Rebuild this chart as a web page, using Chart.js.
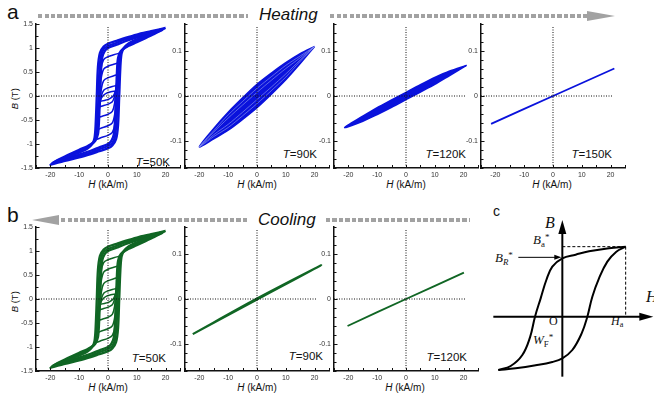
<!DOCTYPE html>
<html>
<head>
<meta charset="utf-8">
<script src="https://cdn.jsdelivr.net/npm/chart.js@4.4.1/dist/chart.umd.min.js"></script>
<style>
body{margin:0;width:654px;height:402px;position:relative;overflow:hidden;background:#fff;font-family:"Liberation Sans",Arial,sans-serif;color:#111}
canvas{position:absolute}
.t{position:absolute;line-height:1;white-space:nowrap}
.dash{position:absolute;height:4.4px;background:repeating-linear-gradient(to right,#a2a2a2 0 4.3px,transparent 4.3px 6.5px)}
.big{font-size:21px}
.hd{font-size:17px;font-style:italic}
.tl{font-size:11.5px}
.ax{font-size:10px;width:60px;text-align:center}
.sr{font-family:"Liberation Serif","Times New Roman",serif}
.sr sub{font-size:0.68em;vertical-align:-0.3em;font-style:normal}
.sr sup{font-size:0.7em;vertical-align:0.45em}
</style>
</head>
<body>
<div class="t big" style="left:7px;top:1px">a</div>
<div class="t big" style="left:7px;top:204px">b</div>
<div class="t" style="left:493px;top:204px;font-size:14px">c</div>

<div class="dash" style="left:38px;top:14px;width:210px"></div>
<div class="t hd" style="left:259px;top:6px">Heating</div>
<div class="dash" style="left:330px;top:14px;width:257px"></div>
<div style="position:absolute;left:587px;top:11px;width:0;height:0;border-left:28px solid #a2a2a2;border-top:5px solid transparent;border-bottom:5px solid transparent"></div>

<div style="position:absolute;left:32px;top:215px;width:0;height:0;border-right:27px solid #a2a2a2;border-top:5px solid transparent;border-bottom:5px solid transparent"></div>
<div class="dash" style="left:61px;top:217.7px;width:186px"></div>
<div class="t hd" style="left:258px;top:211px">Cooling</div>
<div class="dash" style="left:326px;top:217.7px;width:144px"></div>

<div class="t tl" style="right:484px;top:156.8px"><i>T</i>=50K</div>
<div class="t tl" style="right:337px;top:148.5px"><i>T</i>=90K</div>
<div class="t tl" style="right:188px;top:148.5px"><i>T</i>=120K</div>
<div class="t tl" style="right:42px;top:149.2px"><i>T</i>=150K</div>
<div class="t tl" style="right:488px;top:352.8px"><i>T</i>=50K</div>
<div class="t tl" style="right:331px;top:350.8px"><i>T</i>=90K</div>
<div class="t tl" style="right:187px;top:351.8px"><i>T</i>=120K</div>

<div class="t ax" style="left:78px;top:180px"><i>H</i> (kA/m)</div>
<div class="t ax" style="left:227px;top:180px"><i>H</i> (kA/m)</div>
<div class="t ax" style="left:376px;top:180px"><i>H</i> (kA/m)</div>
<div class="t ax" style="left:522px;top:180px"><i>H</i> (kA/m)</div>
<div class="t ax" style="left:78px;top:383px"><i>H</i> (kA/m)</div>
<div class="t ax" style="left:227px;top:383px"><i>H</i> (kA/m)</div>
<div class="t ax" style="left:375px;top:383px"><i>H</i> (kA/m)</div>

<div class="t" style="left:0px;top:94px;width:30px;text-align:center;font-size:9.5px;transform:rotate(-90deg)"><i>B</i> (T)</div>
<div class="t" style="left:0px;top:296.5px;width:30px;text-align:center;font-size:9.5px;transform:rotate(-90deg)"><i>B</i> (T)</div>

<div class="t sr" style="left:545px;top:215px;font-size:16px"><i>B</i></div>
<div class="t sr" style="left:646px;top:289px;font-size:16px"><i>H</i></div>
<div class="t sr" style="left:549px;top:315px;font-size:12px">O</div>
<div class="t sr" style="left:611px;top:315px;font-size:12px"><i>H</i><sub>a</sub></div>
<div class="t sr" style="left:533px;top:232.7px;font-size:13px"><i>B</i><sub>a</sub><sup>*</sup></div>
<div class="t sr" style="left:495px;top:251px;font-size:13px"><i>B</i><sub><i>R</i></sub><sup>*</sup></div>
<div class="t sr" style="left:533px;top:332.7px;font-size:13px"><i>W</i><sub>F</sub><sup>*</sup></div>

<script>
// colours
var blue = 'rgb(10,18,220)';
var blueLight = 'rgb(150,160,240)';
var green = 'rgb(16,102,36)';

// H axis (kA/m), same on every panel
var hRange = [-25, 25];
var zeroLineH = [-25, 20.5];

// 50 K, major loops [H, B]
var major50a = [[20,1.42],[15,1.35],[10,1.28],[6,1.21],[3,1.15],[0,1.09],[-1.5,1.03],[-2.8,0.9],[-3.5,0.6],[-3.9,0],[-4.3,-0.6],[-4.7,-0.88],[-5.5,-1.0],[-7,-1.09],[-10,-1.18],[-15,-1.3],[-20,-1.43],
  [-15,-1.35],[-10,-1.28],[-6,-1.21],[-3,-1.15],[0,-1.09],[1.5,-1.03],[2.8,-0.9],[3.5,-0.6],[3.9,0],[4.3,0.6],[4.7,0.88],[5.5,1.0],[7,1.09],[10,1.18],[15,1.3],[20,1.42]];
var major50b = [[19.5,1.4],[15,1.33],[10,1.25],[6,1.18],[3,1.11],[0,1.04],[-1.5,0.98],[-2.4,0.85],[-3,0.5],[-3.3,0],[-3.7,-0.55],[-4.1,-0.84],[-5,-0.97],[-7,-1.06],[-10,-1.15],[-15,-1.28],[-19.5,-1.4],
  [-15,-1.33],[-10,-1.25],[-6,-1.18],[-3,-1.11],[0,-1.04],[1.5,-0.98],[2.4,-0.85],[3,-0.5],[3.3,0],[3.7,0.55],[4.1,0.84],[5,0.97],[7,1.06],[10,1.15],[15,1.28],[19.5,1.4]];
var major50c = [[19,1.38],[15,1.31],[10,1.22],[6,1.14],[3,1.07],[0,1.0],[-1.2,0.93],[-2,0.8],[-2.5,0.45],[-2.8,0],[-3.1,-0.5],[-3.5,-0.8],[-4.5,-0.94],[-7,-1.04],[-10,-1.12],[-15,-1.26],[-19,-1.38],
  [-15,-1.31],[-10,-1.22],[-6,-1.14],[-3,-1.07],[0,-1.0],[1.2,-0.93],[2,-0.8],[2.5,-0.45],[2.8,0],[3.1,0.5],[3.5,0.8],[4.5,0.94],[7,1.04],[10,1.12],[15,1.26],[19,1.38]];
// 50 K, minor loops
var minor50a = [[4.6,0.9],[2,0.86],[0,0.82],[-1.5,0.76],[-2.5,0.55],[-3,0],[-3.6,-0.6],[-4.6,-0.9],[-2,-0.86],[0,-0.82],[1.5,-0.76],[2.5,-0.55],[3,0],[3.6,0.6],[4.6,0.9]];
var minor50b = [[4.2,0.7],[2,0.66],[0,0.62],[-1.5,0.56],[-2.4,0.35],[-2.8,0],[-3.3,-0.45],[-4.2,-0.7],[-2,-0.66],[0,-0.62],[1.5,-0.56],[2.4,-0.35],[2.8,0],[3.3,0.45],[4.2,0.7]];
var minor50c = [[3.8,0.45],[2,0.42],[0,0.38],[-1.5,0.32],[-2.3,0.15],[-2.6,-0.1],[-3.1,-0.3],[-3.8,-0.45],[-2,-0.42],[0,-0.38],[1.5,-0.32],[2.3,-0.15],[2.6,0.1],[3.1,0.3],[3.8,0.45]];
var minor50d = [[3.2,0.22],[1.5,0.2],[0,0.17],[-1.5,0.12],[-2.3,0],[-2.7,-0.12],[-3.2,-0.22],[-1.5,-0.2],[0,-0.17],[1.5,-0.12],[2.3,0],[2.7,0.12],[3.2,0.22]];
var minor50e = [[2.6,0.1],[1,0.09],[-0.5,0.06],[-1.8,0],[-2.6,-0.1],[-1,-0.09],[0.5,-0.06],[1.8,0],[2.6,0.1]];

// 90 K heating, lens shaped loops
var lens90a = [[20,0.11],[15,0.094],[10,0.074],[5,0.051],[0,0.026],[-5,-0.004],[-10,-0.036],[-15,-0.072],[-20,-0.113],
  [-15,-0.095],[-10,-0.076],[-5,-0.052],[0,-0.026],[5,0.004],[10,0.036],[15,0.072],[20,0.11]];
var lens90b = [[20,0.11],[15,0.089],[10,0.068],[5,0.043],[0,0.017],[-5,-0.012],[-10,-0.042],[-15,-0.077],[-20,-0.113],
  [-15,-0.09],[-10,-0.07],[-5,-0.044],[0,-0.017],[5,0.012],[10,0.042],[15,0.077],[20,0.11]];
var lens90c = [[20,0.11],[15,0.085],[10,0.061],[5,0.035],[0,0.008],[-5,-0.02],[-10,-0.049],[-15,-0.08],[-20,-0.113],
  [-15,-0.086],[-10,-0.063],[-5,-0.036],[0,-0.008],[5,0.02],[10,0.049],[15,0.08],[20,0.11]];

// 120 K heating
var lens120a = [[21,0.068],[15,0.055],[10,0.041],[5,0.025],[0,0.008],[-5,-0.009],[-10,-0.026],[-15,-0.045],[-21.3,-0.07],
  [-15,-0.056],[-10,-0.041],[-5,-0.025],[0,-0.008],[5,0.009],[10,0.026],[15,0.045],[21,0.068]];
var lens120b = [[21,0.068],[10,0.036],[0,0.0035],[-10,-0.031],[-21.3,-0.07],[-10,-0.036],[0,-0.0035],[10,0.031],[21,0.068]];

// 150 K heating
var line150 = [[-21.5,-0.062],[0,0],[21.3,0.061]];

// cooling 90 K and 120 K
var line90c = [[-22.3,-0.078],[0,-0.001],[22.3,0.075],[0,0.001],[-22.3,-0.078]];
var line120c = [[-20.3,-0.06],[0,0],[20.1,0.0585]];

// schematic (panel c), arbitrary units
var schemUpper = [[1.9,2.1],[1.4,2.05],[0.8,1.96],[0.4,1.86],[0,1.75],[-0.3,1.5],[-0.48,1.1],[-0.65,0.55],[-0.82,0],[-0.97,-0.62],[-1.2,-1.15],[-1.55,-1.48],[-1.92,-1.6]];
var schemLower = [[-1.92,-1.6],[-1.4,-1.55],[-0.8,-1.46],[-0.3,-1.36],[0,-1.25],[0.3,-1.0],[0.58,-0.5],[0.75,0],[0.9,0.6],[1.1,1.15],[1.35,1.65],[1.62,1.95],[1.9,2.1]];
var schemBAxis = [[0,-1.8],[0,2.6]];
var schemHAxis = [[-2.07,0],[2.45,0]];
var schemDashH = [[0,2.1],[1.9,2.1]];
var schemDashV = [[1.9,2.1],[1.9,0]];
var schemBR = [[-1.32,1.78],[-0.15,1.78]];

function pts(a){ return a.map(function(p){ return {x:p[0], y:p[1]}; }); }

function loop(a, color, w){
  return {data: pts(a), borderColor: color, borderWidth: w, pointRadius: 0, showLine: true, tension: 0.3, order: 2};
}
function solid(a, color, w){
  var d = loop(a, color, w);
  d.fill = 'shape';
  d.backgroundColor = color;
  d.order = 3;
  return d;
}

// ticks pointing into the plot
var inTicks = {
  id: 'inTicks',
  afterDraw: function(chart){
    var c = chart.ctx, a = chart.chartArea, xs = chart.scales.x, ys = chart.scales.y;
    c.save();
    c.strokeStyle = '#111';
    c.lineWidth = 1;
    xs.ticks.forEach(function(t){
      var p = Math.round(xs.getPixelForValue(t.value)) + 0.5;
      c.beginPath(); c.moveTo(p, a.bottom); c.lineTo(p, a.bottom - 3); c.stroke();
    });
    ys.ticks.forEach(function(t){
      var p = Math.round(ys.getPixelForValue(t.value)) + 0.5;
      c.beginPath(); c.moveTo(a.left, p); c.lineTo(a.left + (t.label ? 3.5 : 2.5), p); c.stroke();
    });
    c.restore();
  }
};

function panel(left, top, ymin, ymax, ystep, yfmt, sets){
  var cv = document.createElement('canvas');
  cv.width = 184; cv.height = 164;
  cv.style.left = (left - 36) + 'px';
  cv.style.top = (top - 8) + 'px';
  document.body.appendChild(cv);
  var dotted = [
    {data: pts([[0, ymin], [0, ymax * 0.97]]), borderColor: '#111', borderWidth: 1, borderDash: [1, 1.5], pointRadius: 0, showLine: true, order: 0},
    {data: pts([[zeroLineH[0], 0], [zeroLineH[1], 0]]), borderColor: '#111', borderWidth: 1, borderDash: [1, 1.5], pointRadius: 0, showLine: true, order: 0}
  ];
  return new Chart(cv, {
    type: 'scatter',
    data: {datasets: dotted.concat(sets)},
    options: {
      responsive: false, animation: false, events: [],
      layout: {padding: {top: 8, right: 4, left: 0, bottom: 0}},
      plugins: {legend: {display: false}, tooltip: {enabled: false}},
      scales: {
        x: {
          type: 'linear', min: hRange[0], max: hRange[1],
          grid: {display: false, drawTicks: false},
          border: {display: true, color: '#111', width: 1.5},
          ticks: {stepSize: 5, autoSkip: false, maxRotation: 0, padding: 3, color: '#333',
            font: {size: 7, family: 'Liberation Sans'},
            callback: function(v){ return (v % 10 === 0 && Math.abs(v) <= 20) ? String(v) : ''; }},
          afterFit: function(s){ s.height = 12; }
        },
        y: {
          type: 'linear', min: ymin, max: ymax,
          grid: {display: false, drawTicks: false},
          border: {display: true, color: '#111', width: 1.5},
          ticks: {stepSize: ystep, autoSkip: false, padding: 3, color: '#333',
            font: {size: 7, family: 'Liberation Sans'}, callback: yfmt},
          afterFit: function(s){ s.width = 36; }
        }
      }
    },
    plugins: [inTicks]
  });
}

function fmtBig(v){
  return Math.abs(v * 2 - Math.round(v * 2)) < 1e-6 ? String(Math.round(v * 2) / 2) : '';
}
function fmtSmall(v){
  var r = Math.round(v * 100);
  return (r % 10 === 0) ? String(r / 100) : '';
}

function set50(color){
  return [
    loop(major50a, color, 2.3), loop(major50b, color, 2.3), loop(major50c, color, 2.3),
    loop(minor50a, color, 1.5), loop(minor50b, color, 1.5), loop(minor50c, color, 1.5), loop(minor50d, color, 1.5), loop(minor50e, color, 1.5)
  ];
}

// heating row
panel(35.5, 24, -1.5, 1.5, 0.25, fmtBig, set50(blue));
panel(185, 24, -0.16, 0.16, 0.02, fmtSmall, [
  solid(lens90a, blue, 1.5), loop(lens90b, blueLight, 0.6), loop(lens90c, blueLight, 0.6)
]);
panel(333.5, 24, -0.16, 0.16, 0.02, fmtSmall, [
  solid(lens120a, blue, 1.6), loop(lens120b, blue, 1)
]);
panel(481, 24, -0.16, 0.16, 0.02, fmtSmall, [
  loop(line150, blue, 1.8)
]);

// cooling row
panel(35.5, 227, -1.5, 1.5, 0.25, fmtBig, set50(green));
panel(185, 227, -0.16, 0.16, 0.02, fmtSmall, [
  loop(line90c, green, 2.2)
]);
panel(333.5, 227, -0.16, 0.16, 0.02, fmtSmall, [
  loop(line120c, green, 1.9)
]);

// schematic panel c
var arrows = {
  id: 'arrows',
  afterDraw: function(chart){
    var c = chart.ctx, xs = chart.scales.x, ys = chart.scales.y;
    function head(tx, ty, dir, len, half){
      var X = xs.getPixelForValue(tx), Y = ys.getPixelForValue(ty);
      c.beginPath();
      if (dir === 'up'){ c.moveTo(X, Y); c.lineTo(X - half, Y + len); c.lineTo(X + half, Y + len); }
      if (dir === 'right'){ c.moveTo(X, Y); c.lineTo(X - len, Y - half); c.lineTo(X - len, Y + half); }
      c.closePath(); c.fill();
    }
    c.save();
    c.fillStyle = '#000';
    head(0, 2.9, 'up', 14, 4);
    head(2.73, 0, 'right', 14, 4);
    head(-0.03, 1.78, 'right', 7, 2.5);
    c.restore();
  }
};
(function(){
  var cv = document.createElement('canvas');
  cv.width = 174; cv.height = 207;
  cv.style.left = '480px'; cv.style.top = '195px';
  document.body.appendChild(cv);
  function seg(a, w, dash){
    return {data: pts(a), borderColor: '#000', borderWidth: w, borderDash: dash || [], pointRadius: 0, showLine: true, tension: 0};
  }
  var up = seg(schemUpper, 2); up.tension = 0.4;
  var lo = seg(schemLower, 2); lo.tension = 0.4;
  new Chart(cv, {
    type: 'scatter',
    data: {datasets: [up, lo, seg(schemBAxis, 2), seg(schemHAxis, 2), seg(schemDashH, 1, [3, 2]), seg(schemDashV, 1, [3, 2]), seg(schemBR, 1)]},
    options: {
      responsive: false, animation: false, events: [],
      layout: {padding: 0},
      plugins: {legend: {display: false}, tooltip: {enabled: false}},
      scales: {
        x: {type: 'linear', display: false, min: -2.47, max: 2.75},
        y: {type: 'linear', display: false, min: -2.56, max: 3.65}
      }
    },
    plugins: [arrows]
  });
})();
</script>
</body>
</html>
